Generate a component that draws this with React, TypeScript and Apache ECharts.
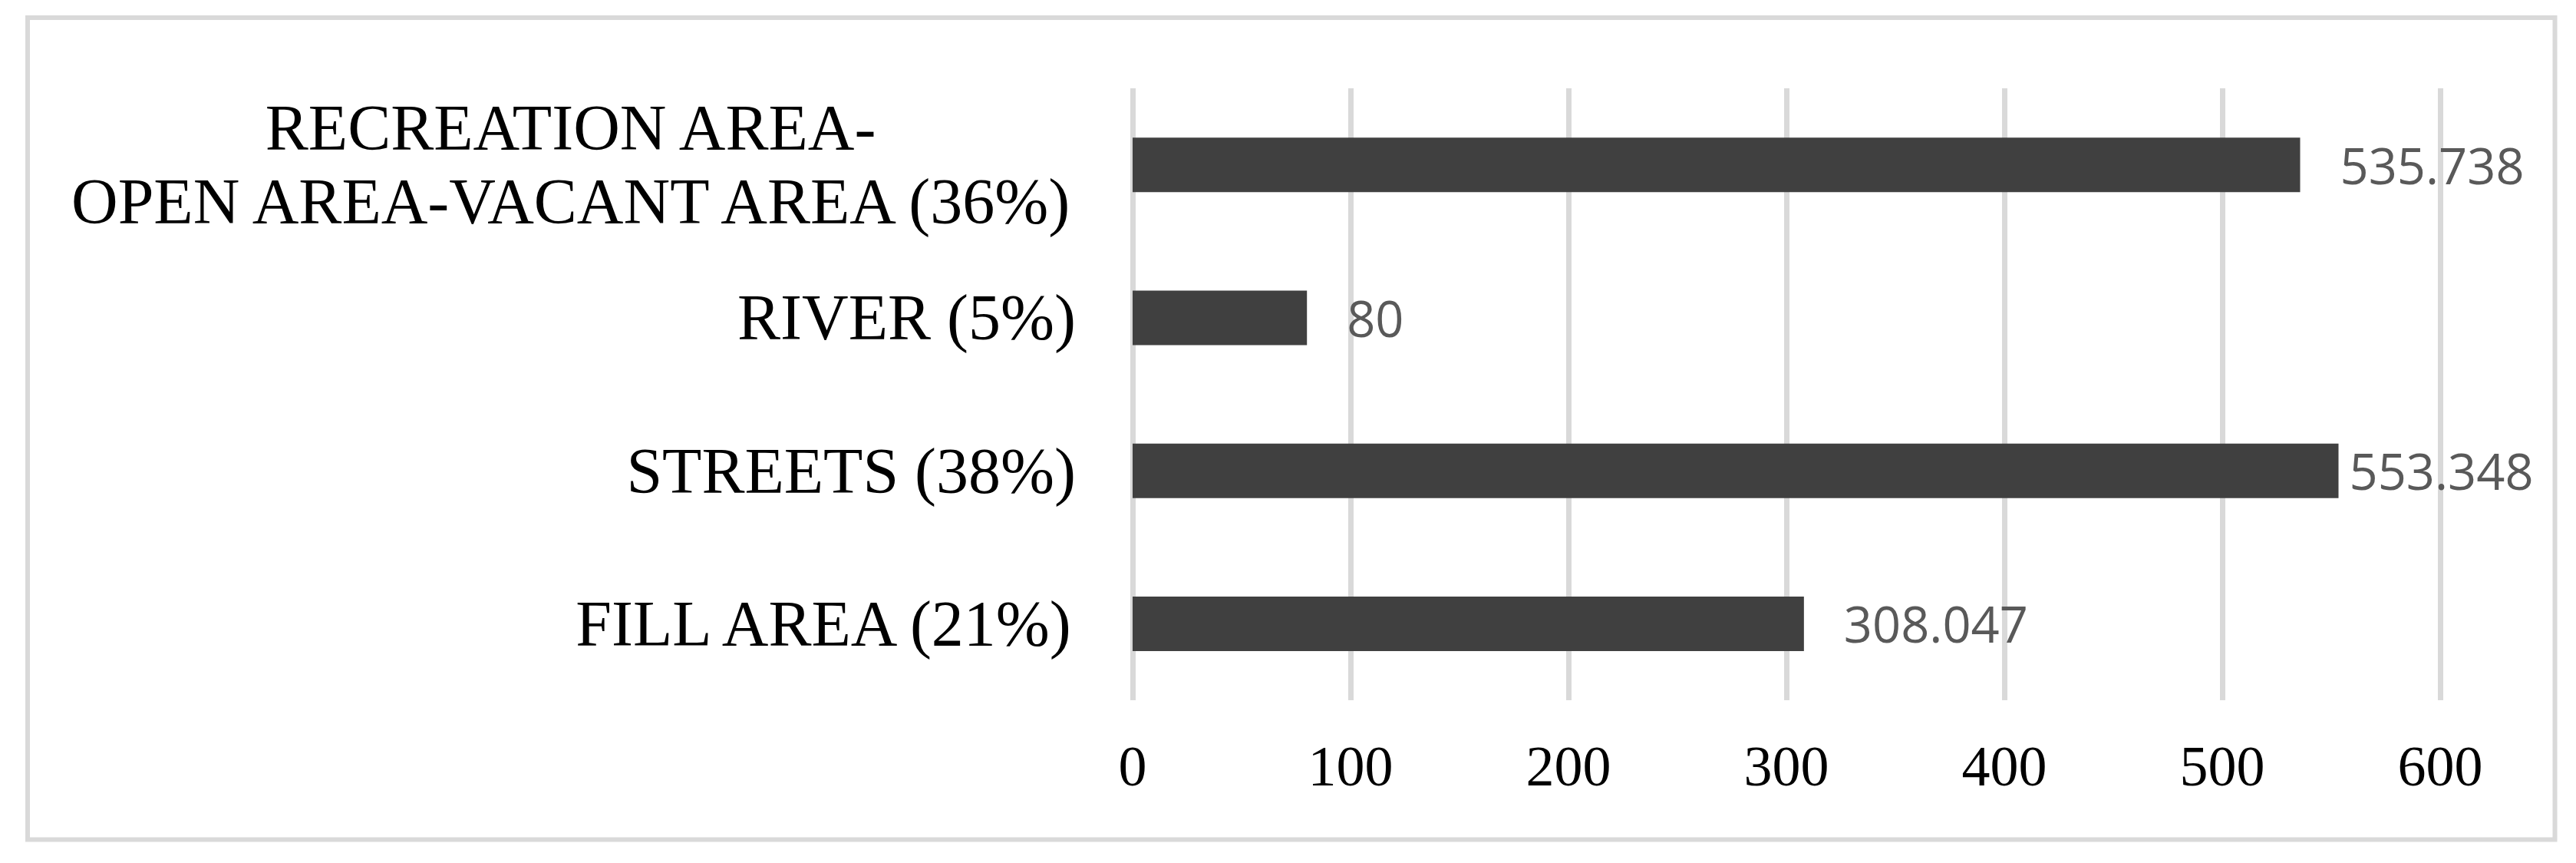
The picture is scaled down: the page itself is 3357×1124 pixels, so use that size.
import React, { useEffect, useRef } from "react";
import * as echarts from "echarts";

const categories = [
  "RECREATION AREA-\nOPEN AREA-VACANT AREA (36%)",
  "RIVER (5%)",
  "STREETS (38%)",
  "FILL AREA (21%)",
];
const values = [535.738, 80, 553.348, 308.047];
const xTicks = { min: 0, max: 600, interval: 100 };

const SERIF = "'Liberation Serif', 'Times New Roman', serif";
const SANS = "'Open Sans', 'Noto Sans', sans-serif";

export default function App() {
  const ref = useRef<HTMLDivElement>(null);
  useEffect(() => {
    if (!ref.current) return;
    const chart = echarts.init(ref.current, null, { renderer: "svg" });
    const data = values.map((v, i) =>
      i === 2 ? { value: v, label: { distance: 14 } } : v
    );
    chart.setOption({
      animation: false,
      backgroundColor: "#ffffff",
      grid: {
        left: 1476,
        right: 177,
        top: 115,
        bottom: 212,
        containLabel: false,
        outerBoundsMode: "none",
      },
      xAxis: {
        type: "value",
        min: xTicks.min,
        max: xTicks.max,
        interval: xTicks.interval,
        axisLine: { show: false },
        axisTick: { show: false },
        splitLine: { show: true, lineStyle: { color: "#d9d9d9", width: 7 } },
        axisLabel: {
          fontFamily: SERIF,
          fontSize: 74,
          color: "#000000",
          margin: 86,
          verticalAlign: "middle",
        },
      },
      yAxis: {
        type: "category",
        data: categories,
        inverse: true,
        axisLine: { show: false },
        axisTick: { show: false },
        splitLine: { show: false },
        axisLabel: {
          margin: 74,
          verticalAlign: "middle",
          align: "right",
          formatter: (v: string) =>
            v
              .split("\n")
              .map((l) => `{c|${l}}`)
              .join("\n"),
          rich: {
            c: {
              fontFamily: SERIF,
              fontSize: 84,
              color: "#000000",
              align: "center",
              lineHeight: 96,
            },
          },
        },
      },
      series: [
        {
          type: "bar",
          data,
          barWidth: 71,
          itemStyle: { color: "#404040" },
          label: {
            show: true,
            position: "right",
            distance: 52,
            fontFamily: SANS,
            fontSize: 65,
            color: "#595959",
          },
        },
      ],
      graphic: [
        {
          type: "rect",
          shape: { x: 36, y: 23, width: 3293.5, height: 1070.5 },
          style: { fill: "none", stroke: "#d9d9d9", lineWidth: 6 },
          silent: true,
          z: -1,
        },
      ],
    });
    return () => chart.dispose();
  }, []);
  return (
    <div
      ref={ref}
      style={{ position: "fixed", left: 0, top: 0, width: 3357, height: 1124 }}
    />
  );
}
